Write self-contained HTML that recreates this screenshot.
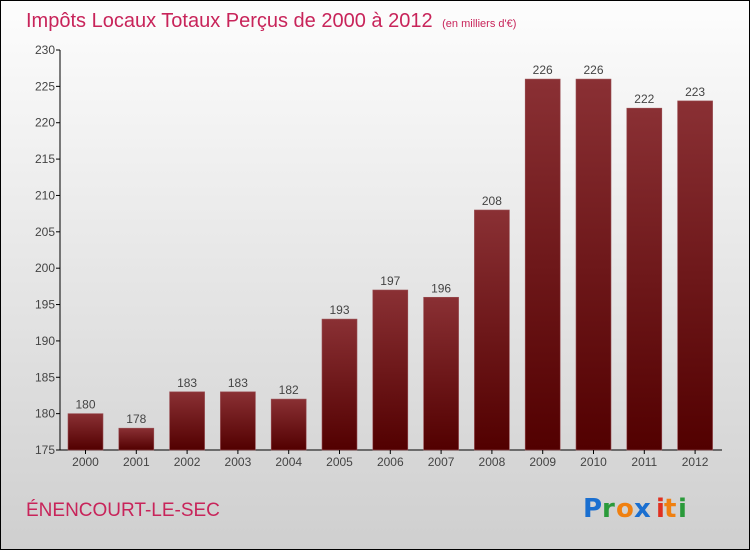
<!DOCTYPE html>
<html><head><meta charset="utf-8"><style>
body{margin:0}
#wrap{position:relative;width:750px;height:550px;box-sizing:border-box;border:1px solid #000;background:linear-gradient(#fdfdfd,#cfcfcf);font-family:"Liberation Sans",sans-serif;overflow:hidden}
</style></head><body>
<div id="wrap">
<svg id="svg" width="750" height="550" style="position:absolute;left:-1px;top:-1px">
<defs><linearGradient id="bg" x1="0" y1="0" x2="0" y2="1"><stop offset="0" stop-color="#8a3034"/><stop offset="1" stop-color="#520000"/></linearGradient></defs>
<text x="26" y="27" font-size="20" fill="#c8245a">Impôts Locaux Totaux Perçus de 2000 à 2012 <tspan font-size="11" dx="4">(en milliers d'€)</tspan></text>
<text x="26" y="516" font-size="19" fill="#c8245a">ÉNENCOURT-LE-SEC</text>
<g font-size="26" font-weight="bold" font-family="'DejaVu Sans',sans-serif">
<text x="583" y="517" fill="#1a6fd0">P</text><text x="602" y="517" fill="#2a9a3a">r</text><text x="616" y="517" fill="#f08010">o</text><text x="634" y="517" fill="#1a6fd0">x</text><text x="656" y="517" fill="#e03020">i</text><text x="664" y="517" fill="#f08010">t</text><text x="678" y="517" fill="#2a9a3a">i</text>
</g>
<g id="plot"></g>
</svg>
</div>
<script>
const categories=["2000","2001","2002","2003","2004","2005","2006","2007","2008","2009","2010","2011","2012"];
const values=[180,178,183,183,182,193,197,196,208,226,226,222,223];
const ticks=[175,180,185,190,195,200,205,210,215,220,225,230];
const yMin=175,yMax=230,top_=50,bot=450,x0=60;
const y=v=>bot-(v-yMin)/(yMax-yMin)*(bot-top_);
const xc=i=>85.5+i*50.8;
const NS="http://www.w3.org/2000/svg";
const g=document.getElementById('plot');
function mk(t,a){const e=document.createElementNS(NS,t);for(const k in a)e.setAttribute(k,a[k]);g.appendChild(e);return e;}
let ax=mk('line',{x1:x0,y1:top_,x2:x0,y2:bot,stroke:'#000'});


let bx=mk('line',{x1:x0,y1:bot,x2:722,y2:bot,stroke:'#000'});


ticks.forEach(t=>{
 const l=mk('line',{x1:x0-4,y1:y(t),x2:x0,y2:y(t),stroke:'#000'});
 
 
 const tx=mk('text',{x:x0-5,y:y(t)+4,'text-anchor':'end','font-size':12,fill:'#444'});
 tx.textContent=t;
 
 
});
categories.forEach((c,i)=>{
 const v=values[i];
 const r=mk('rect',{x:xc(i)-17.5,y:y(v),width:35,height:bot-y(v),fill:'url(#bg)',stroke:'#9a5055','stroke-width':0.6});
 
 
 const l=mk('text',{x:xc(i),y:y(v)-5,'text-anchor':'middle','font-size':12,fill:'#444'});
 l.textContent=v;
 
 
 const tk=mk('line',{x1:xc(i),y1:bot,x2:xc(i),y2:bot+4,stroke:'#000'});
 
 
 const xl=mk('text',{x:xc(i),y:bot+16,'text-anchor':'middle','font-size':12,fill:'#444'});
 xl.textContent=c;
 
 
});
</script>
</body></html>
